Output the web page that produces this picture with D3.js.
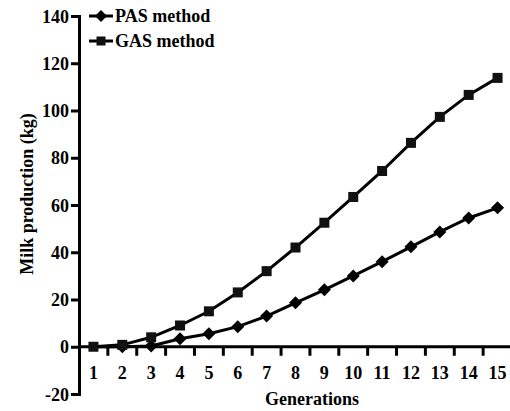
<!DOCTYPE html>
<html>
<head>
<meta charset="utf-8">
<script src="https://cdn.jsdelivr.net/npm/d3@7/dist/d3.min.js"></script>
<style>
  html, body { margin: 0; padding: 0; background: #fff; }
  svg { display: block; }
  text { font-family: "Liberation Serif", "Times New Roman", serif; font-weight: bold; fill: #000; }
</style>
</head>
<body>
<svg id="chart" width="510" height="411"></svg>
<script>
const generations = [1,2,3,4,5,6,7,8,9,10,11,12,13,14,15];
const pasValues = [0, 0, 0.3, 3.4, 5.5, 8.5, 13, 18.6, 24.1, 30, 36, 42.3, 48.6, 54.5, 58.8];
const gasValues = [0, 0.8, 4, 9, 15, 23, 32, 42, 52.5, 63.4, 74.4, 86.3, 97.3, 106.6, 113.8];
const yTicks = [-20, 0, 20, 40, 60, 80, 100, 120, 140];
const seriesNames = ["PAS method", "GAS method"];

const svg = d3.select("#chart");
const x = d3.scaleBand().domain(generations).range([79, 512]);
const y = d3.scaleLinear().domain([-20, 140]).range([394, 16]);
const fs = 18;

// Y axis
const yAxis = d3.axisLeft(y).tickValues(yTicks).tickFormat(d => String(d)).tickSize(8).tickPadding(2);
const gy = svg.append("g").attr("transform", "translate(79,0)").call(yAxis);
gy.select(".domain").attr("stroke", "#000").attr("stroke-width", 3);
gy.selectAll(".tick line").attr("stroke", "#000").attr("stroke-width", 3);
gy.selectAll(".tick text").attr("font-size", fs).attr("font-family", "Liberation Serif").attr("font-weight", "bold").attr("dy", "0.34em");

// X axis at y=0
const gx = svg.append("g").attr("transform", `translate(0,${y(0)})`);
gx.append("line").attr("x1", 79).attr("x2", 510).attr("stroke", "#000").attr("stroke-width", 3);
gx.selectAll(".xt").data(generations.slice(1)).enter().append("line")
  .attr("x1", d => x(d)).attr("x2", d => x(d)).attr("y1", 0).attr("y2", 9)
  .attr("stroke", "#000").attr("stroke-width", 3);
gx.selectAll(".xl").data(generations).enter().append("text")
  .attr("x", d => x(d) + x.bandwidth() / 2).attr("y", 32)
  .attr("text-anchor", "middle").attr("font-size", fs).text(d => d);

// Axis titles
svg.append("text").attr("x", 312).attr("y", 405).attr("text-anchor", "middle")
  .attr("font-size", fs).text("Generations");
svg.append("text").attr("transform", "rotate(-90)").attr("x", -194).attr("y", 33)
  .attr("text-anchor", "middle").attr("font-size", fs).text("Milk production (kg)");

const cx = d => x(d) + x.bandwidth() / 2;
const line = d3.line().x((d, i) => cx(generations[i])).y(d => y(d));

function diamond(g, px, py, r) {
  g.append("path").attr("d", `M${px},${py - r}L${px + r},${py}L${px},${py + r}L${px - r},${py}Z`).attr("fill", "#000");
}
function square(g, px, py, s) {
  g.append("rect").attr("x", px - s / 2).attr("y", py - s / 2).attr("width", s).attr("height", s).attr("fill", "#111");
}

// Lines
svg.append("path").datum(gasValues).attr("d", line).attr("fill", "none").attr("stroke", "#000").attr("stroke-width", 3);
svg.append("path").datum(pasValues).attr("d", line).attr("fill", "none").attr("stroke", "#000").attr("stroke-width", 3);

const mk = svg.append("g");
pasValues.forEach((v, i) => { if (i > 0) diamond(mk, cx(generations[i]), y(v), 6.5); });
gasValues.forEach((v, i) => square(mk, cx(generations[i]), y(v), 10));

// Legend
const lg = svg.append("g");
[16, 41].forEach((ly, i) => {
  lg.append("line").attr("x1", 89).attr("x2", 113).attr("y1", ly).attr("y2", ly).attr("stroke", "#000").attr("stroke-width", 3);
  if (i === 0) diamond(lg, 101, ly, 6); else square(lg, 101, ly, 9);
  lg.append("text").attr("x", 115).attr("y", ly).attr("dy", "0.34em").attr("font-size", fs).text(seriesNames[i]);
});
</script>
</body>
</html>
